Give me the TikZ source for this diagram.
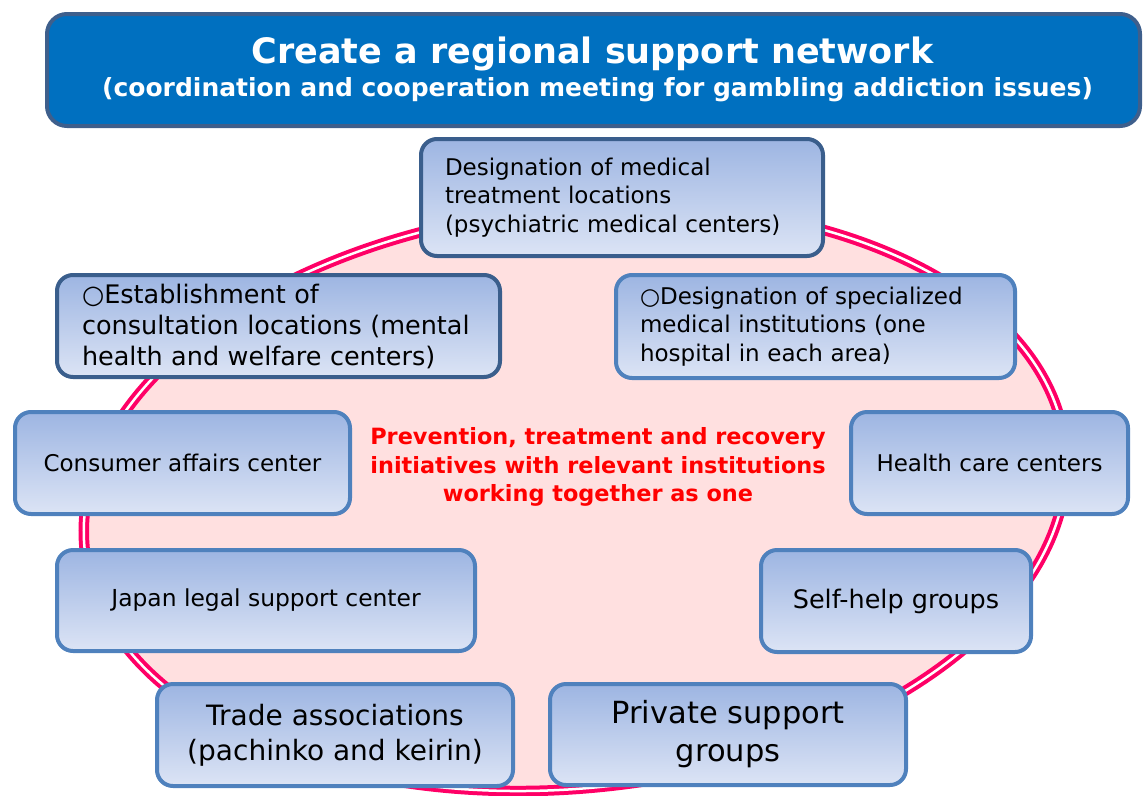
\documentclass[tikz,border=0pt]{standalone}
\usepackage{fontspec}
\setmainfont{DejaVu Sans}
\usepackage{xcolor}

\definecolor{headblue}{HTML}{0070C0}
\definecolor{headedge}{HTML}{3E5F8C}
\definecolor{darkedge}{HTML}{3A5E8C}
\definecolor{lightedge}{HTML}{4F81BD}
\definecolor{boxtop}{HTML}{9DB5E2}
\definecolor{boxbottom}{HTML}{DCE4F5}
\definecolor{ringpink}{HTML}{FF0066}
\definecolor{ringfill}{HTML}{FFE0E0}
\definecolor{goalred}{HTML}{FF0000}

\begin{document}
\begin{tikzpicture}[x=1pt,y=-1pt,
    box/.style={line width=4pt, rounded corners=16pt, shading=axis,
      top color=boxtop, bottom color=boxbottom, inner sep=0pt, align=center},
    darkbox/.style={box, draw=darkedge},
    lightbox/.style={box, draw=lightedge},
    headbox/.style={draw=headedge, fill=headblue, line width=4pt, rounded corners=20pt}]
        \useasboundingbox (0,0) rectangle (1147,795);
        % ring behind the boxes
        \coordinate (ringcenter) at (575,498);
        \fill[ringfill, rotate around={6:(ringcenter)}] (ringcenter) ellipse [x radius=493pt, y radius=290pt];
        \draw[ringpink, line width=4pt, double=white, double distance=2.5pt, rotate around={6:(ringcenter)}] (ringcenter) ellipse [x radius=493pt, y radius=290pt];
        % header
        \node[headbox, minimum width=1093pt, minimum height=112pt] (header) at (593.5,70) {};
        \node[anchor=base, text=white, font=\fontsize{35}{40}\selectfont\bfseries] (title) at (592.5,63) {Create a regional support network};
        \node[anchor=base, text=white, font=\fontsize{25}{30}\selectfont\bfseries] (subtitle) at (597.5,96) {(coordination and cooperation meeting for gambling addiction issues)};
        % boxes round the ring
        \node[darkbox, minimum width=402pt, minimum height=117pt, text width=354pt, inner xsep=24pt, align=left, font=\fontsize{23}{28.5}\selectfont] (medical) at (622,197.5) {Designation of medical\\treatment locations\\(psychiatric medical centers)};
        \node[darkbox, minimum width=443pt, minimum height=102pt, text width=393pt, inner xsep=25pt, align=left, font=\fontsize{25.5}{31}\selectfont] (consult) at (278.5,326) {○Establishment of\\consultation locations (mental\\health and welfare centers)};
        \node[lightbox, minimum width=399pt, minimum height=103pt, text width=351pt, inner xsep=24pt, align=left, font=\fontsize{23}{28.5}\selectfont] (specialized) at (815.5,326.5) {○Designation of specialized\\medical institutions (one\\hospital in each area)};
        \node[lightbox, minimum width=335pt, minimum height=102pt, font=\fontsize{23}{28.5}\selectfont] (consumer) at (182.5,463) {Consumer affairs center};
        \node[lightbox, minimum width=277pt, minimum height=102pt, font=\fontsize{23}{28.5}\selectfont] (health) at (989.5,463) {Health care centers};
        \node[lightbox, minimum width=418pt, minimum height=101pt, font=\fontsize{23.4}{28.5}\selectfont] (legal) at (266,600.5) {Japan legal support center};
        \node[lightbox, minimum width=270pt, minimum height=102pt, font=\fontsize{25.5}{31}\selectfont] (selfhelp) at (896,601) {Self-help groups};
        \node[lightbox, minimum width=356pt, minimum height=102pt, font=\fontsize{28}{35}\selectfont] (trade) at (335,735) {Trade associations\\(pachinko and keirin)};
        \node[lightbox, minimum width=356pt, minimum height=101pt, font=\fontsize{30.5}{38}\selectfont] (private) at (728,734.5) {Private support\\groups};
        % message in the middle
        \node[align=center, text=goalred, font=\fontsize{22.4}{28.5}\selectfont\bfseries] (goal) at (598,467) {Prevention, treatment and recovery\\initiatives with relevant institutions\\working together as one};
\end{tikzpicture}
\end{document}
